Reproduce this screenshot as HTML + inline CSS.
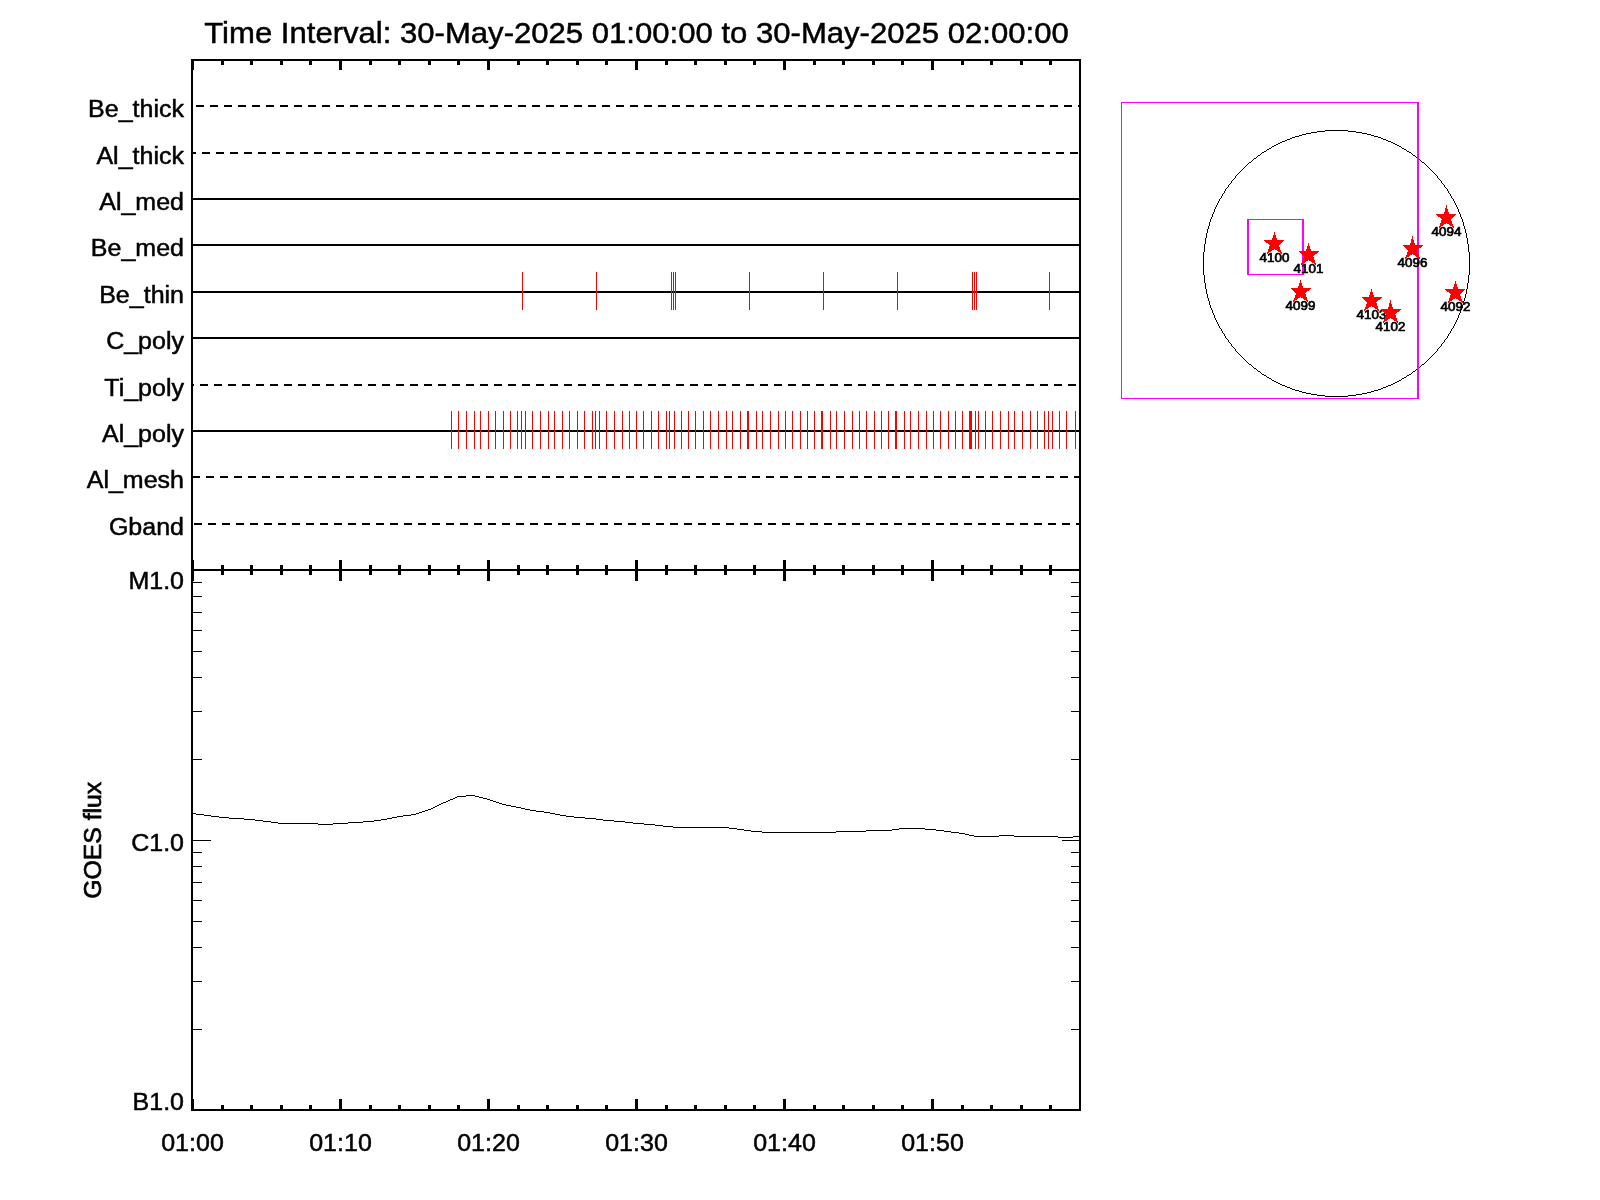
<!DOCTYPE html>
<html><head><meta charset="utf-8"><title>XRT timeline</title>
<style>
html,body{margin:0;padding:0;background:#fff;}
body{width:1600px;height:1200px;overflow:hidden;font-family:"Liberation Sans",sans-serif;}
svg{display:block;}
text{fill:#000;stroke:#000;stroke-width:0.5px;}
svg{will-change:transform;}
</style></head><body>
<svg width="1600" height="1200" viewBox="0 0 1600 1200" shape-rendering="crispEdges">
<rect x="191" y="59" width="2" height="1052" fill="#000"/>
<rect x="1079" y="59" width="2" height="1052" fill="#000"/>
<rect x="191" y="59" width="890" height="2" fill="#000"/>
<rect x="191" y="569" width="890" height="2" fill="#000"/>
<rect x="191" y="1109" width="890" height="2" fill="#000"/>
<rect x="191" y="59" width="3" height="11" fill="#000"/>
<rect x="191" y="560" width="3" height="21" fill="#000"/>
<rect x="191" y="1099" width="3" height="12" fill="#000"/>
<rect x="221" y="59" width="3" height="6" fill="#000"/>
<rect x="221" y="565" width="3" height="10" fill="#000"/>
<rect x="221" y="1105" width="3" height="6" fill="#000"/>
<rect x="250" y="59" width="3" height="6" fill="#000"/>
<rect x="250" y="565" width="3" height="10" fill="#000"/>
<rect x="250" y="1105" width="3" height="6" fill="#000"/>
<rect x="280" y="59" width="3" height="6" fill="#000"/>
<rect x="280" y="565" width="3" height="10" fill="#000"/>
<rect x="280" y="1105" width="3" height="6" fill="#000"/>
<rect x="309" y="59" width="3" height="6" fill="#000"/>
<rect x="309" y="565" width="3" height="10" fill="#000"/>
<rect x="309" y="1105" width="3" height="6" fill="#000"/>
<rect x="339" y="59" width="3" height="11" fill="#000"/>
<rect x="339" y="560" width="3" height="21" fill="#000"/>
<rect x="339" y="1099" width="3" height="12" fill="#000"/>
<rect x="369" y="59" width="3" height="6" fill="#000"/>
<rect x="369" y="565" width="3" height="10" fill="#000"/>
<rect x="369" y="1105" width="3" height="6" fill="#000"/>
<rect x="398" y="59" width="3" height="6" fill="#000"/>
<rect x="398" y="565" width="3" height="10" fill="#000"/>
<rect x="398" y="1105" width="3" height="6" fill="#000"/>
<rect x="428" y="59" width="3" height="6" fill="#000"/>
<rect x="428" y="565" width="3" height="10" fill="#000"/>
<rect x="428" y="1105" width="3" height="6" fill="#000"/>
<rect x="457" y="59" width="3" height="6" fill="#000"/>
<rect x="457" y="565" width="3" height="10" fill="#000"/>
<rect x="457" y="1105" width="3" height="6" fill="#000"/>
<rect x="487" y="59" width="3" height="11" fill="#000"/>
<rect x="487" y="560" width="3" height="21" fill="#000"/>
<rect x="487" y="1099" width="3" height="12" fill="#000"/>
<rect x="517" y="59" width="3" height="6" fill="#000"/>
<rect x="517" y="565" width="3" height="10" fill="#000"/>
<rect x="517" y="1105" width="3" height="6" fill="#000"/>
<rect x="546" y="59" width="3" height="6" fill="#000"/>
<rect x="546" y="565" width="3" height="10" fill="#000"/>
<rect x="546" y="1105" width="3" height="6" fill="#000"/>
<rect x="576" y="59" width="3" height="6" fill="#000"/>
<rect x="576" y="565" width="3" height="10" fill="#000"/>
<rect x="576" y="1105" width="3" height="6" fill="#000"/>
<rect x="605" y="59" width="3" height="6" fill="#000"/>
<rect x="605" y="565" width="3" height="10" fill="#000"/>
<rect x="605" y="1105" width="3" height="6" fill="#000"/>
<rect x="635" y="59" width="3" height="11" fill="#000"/>
<rect x="635" y="560" width="3" height="21" fill="#000"/>
<rect x="635" y="1099" width="3" height="12" fill="#000"/>
<rect x="665" y="59" width="3" height="6" fill="#000"/>
<rect x="665" y="565" width="3" height="10" fill="#000"/>
<rect x="665" y="1105" width="3" height="6" fill="#000"/>
<rect x="694" y="59" width="3" height="6" fill="#000"/>
<rect x="694" y="565" width="3" height="10" fill="#000"/>
<rect x="694" y="1105" width="3" height="6" fill="#000"/>
<rect x="724" y="59" width="3" height="6" fill="#000"/>
<rect x="724" y="565" width="3" height="10" fill="#000"/>
<rect x="724" y="1105" width="3" height="6" fill="#000"/>
<rect x="753" y="59" width="3" height="6" fill="#000"/>
<rect x="753" y="565" width="3" height="10" fill="#000"/>
<rect x="753" y="1105" width="3" height="6" fill="#000"/>
<rect x="783" y="59" width="3" height="11" fill="#000"/>
<rect x="783" y="560" width="3" height="21" fill="#000"/>
<rect x="783" y="1099" width="3" height="12" fill="#000"/>
<rect x="813" y="59" width="3" height="6" fill="#000"/>
<rect x="813" y="565" width="3" height="10" fill="#000"/>
<rect x="813" y="1105" width="3" height="6" fill="#000"/>
<rect x="842" y="59" width="3" height="6" fill="#000"/>
<rect x="842" y="565" width="3" height="10" fill="#000"/>
<rect x="842" y="1105" width="3" height="6" fill="#000"/>
<rect x="872" y="59" width="3" height="6" fill="#000"/>
<rect x="872" y="565" width="3" height="10" fill="#000"/>
<rect x="872" y="1105" width="3" height="6" fill="#000"/>
<rect x="901" y="59" width="3" height="6" fill="#000"/>
<rect x="901" y="565" width="3" height="10" fill="#000"/>
<rect x="901" y="1105" width="3" height="6" fill="#000"/>
<rect x="931" y="59" width="3" height="11" fill="#000"/>
<rect x="931" y="560" width="3" height="21" fill="#000"/>
<rect x="931" y="1099" width="3" height="12" fill="#000"/>
<rect x="961" y="59" width="3" height="6" fill="#000"/>
<rect x="961" y="565" width="3" height="10" fill="#000"/>
<rect x="961" y="1105" width="3" height="6" fill="#000"/>
<rect x="990" y="59" width="3" height="6" fill="#000"/>
<rect x="990" y="565" width="3" height="10" fill="#000"/>
<rect x="990" y="1105" width="3" height="6" fill="#000"/>
<rect x="1020" y="59" width="3" height="6" fill="#000"/>
<rect x="1020" y="565" width="3" height="10" fill="#000"/>
<rect x="1020" y="1105" width="3" height="6" fill="#000"/>
<rect x="1049" y="59" width="3" height="6" fill="#000"/>
<rect x="1049" y="565" width="3" height="10" fill="#000"/>
<rect x="1049" y="1105" width="3" height="6" fill="#000"/>
<rect x="196" y="105" width="8" height="2" fill="#000"/>
<rect x="210" y="105" width="8" height="2" fill="#000"/>
<rect x="224" y="105" width="8" height="2" fill="#000"/>
<rect x="238" y="105" width="8" height="2" fill="#000"/>
<rect x="252" y="105" width="8" height="2" fill="#000"/>
<rect x="266" y="105" width="8" height="2" fill="#000"/>
<rect x="280" y="105" width="8" height="2" fill="#000"/>
<rect x="294" y="105" width="8" height="2" fill="#000"/>
<rect x="308" y="105" width="8" height="2" fill="#000"/>
<rect x="322" y="105" width="8" height="2" fill="#000"/>
<rect x="336" y="105" width="8" height="2" fill="#000"/>
<rect x="350" y="105" width="8" height="2" fill="#000"/>
<rect x="364" y="105" width="8" height="2" fill="#000"/>
<rect x="378" y="105" width="8" height="2" fill="#000"/>
<rect x="392" y="105" width="8" height="2" fill="#000"/>
<rect x="406" y="105" width="8" height="2" fill="#000"/>
<rect x="420" y="105" width="8" height="2" fill="#000"/>
<rect x="434" y="105" width="8" height="2" fill="#000"/>
<rect x="448" y="105" width="8" height="2" fill="#000"/>
<rect x="462" y="105" width="8" height="2" fill="#000"/>
<rect x="476" y="105" width="8" height="2" fill="#000"/>
<rect x="490" y="105" width="8" height="2" fill="#000"/>
<rect x="504" y="105" width="8" height="2" fill="#000"/>
<rect x="518" y="105" width="8" height="2" fill="#000"/>
<rect x="532" y="105" width="8" height="2" fill="#000"/>
<rect x="546" y="105" width="8" height="2" fill="#000"/>
<rect x="560" y="105" width="8" height="2" fill="#000"/>
<rect x="574" y="105" width="8" height="2" fill="#000"/>
<rect x="588" y="105" width="8" height="2" fill="#000"/>
<rect x="602" y="105" width="8" height="2" fill="#000"/>
<rect x="616" y="105" width="8" height="2" fill="#000"/>
<rect x="630" y="105" width="8" height="2" fill="#000"/>
<rect x="644" y="105" width="8" height="2" fill="#000"/>
<rect x="658" y="105" width="8" height="2" fill="#000"/>
<rect x="672" y="105" width="8" height="2" fill="#000"/>
<rect x="686" y="105" width="8" height="2" fill="#000"/>
<rect x="700" y="105" width="8" height="2" fill="#000"/>
<rect x="714" y="105" width="8" height="2" fill="#000"/>
<rect x="728" y="105" width="8" height="2" fill="#000"/>
<rect x="742" y="105" width="8" height="2" fill="#000"/>
<rect x="756" y="105" width="8" height="2" fill="#000"/>
<rect x="770" y="105" width="8" height="2" fill="#000"/>
<rect x="784" y="105" width="8" height="2" fill="#000"/>
<rect x="798" y="105" width="8" height="2" fill="#000"/>
<rect x="812" y="105" width="8" height="2" fill="#000"/>
<rect x="826" y="105" width="8" height="2" fill="#000"/>
<rect x="840" y="105" width="8" height="2" fill="#000"/>
<rect x="854" y="105" width="8" height="2" fill="#000"/>
<rect x="868" y="105" width="8" height="2" fill="#000"/>
<rect x="882" y="105" width="8" height="2" fill="#000"/>
<rect x="896" y="105" width="8" height="2" fill="#000"/>
<rect x="910" y="105" width="8" height="2" fill="#000"/>
<rect x="924" y="105" width="8" height="2" fill="#000"/>
<rect x="938" y="105" width="8" height="2" fill="#000"/>
<rect x="952" y="105" width="8" height="2" fill="#000"/>
<rect x="966" y="105" width="8" height="2" fill="#000"/>
<rect x="980" y="105" width="8" height="2" fill="#000"/>
<rect x="994" y="105" width="8" height="2" fill="#000"/>
<rect x="1008" y="105" width="8" height="2" fill="#000"/>
<rect x="1022" y="105" width="8" height="2" fill="#000"/>
<rect x="1036" y="105" width="8" height="2" fill="#000"/>
<rect x="1050" y="105" width="8" height="2" fill="#000"/>
<rect x="1064" y="105" width="8" height="2" fill="#000"/>
<rect x="1078" y="105" width="1" height="2" fill="#000"/>
<text transform="translate(184,117) scale(1.047,1)" text-anchor="end" font-family="Liberation Sans, sans-serif" font-size="23.9">Be_thick</text>
<rect x="193" y="152" width="3" height="2" fill="#000"/>
<rect x="202" y="152" width="8" height="2" fill="#000"/>
<rect x="216" y="152" width="8" height="2" fill="#000"/>
<rect x="230" y="152" width="8" height="2" fill="#000"/>
<rect x="244" y="152" width="8" height="2" fill="#000"/>
<rect x="258" y="152" width="8" height="2" fill="#000"/>
<rect x="272" y="152" width="8" height="2" fill="#000"/>
<rect x="286" y="152" width="8" height="2" fill="#000"/>
<rect x="300" y="152" width="8" height="2" fill="#000"/>
<rect x="314" y="152" width="8" height="2" fill="#000"/>
<rect x="328" y="152" width="8" height="2" fill="#000"/>
<rect x="342" y="152" width="8" height="2" fill="#000"/>
<rect x="356" y="152" width="8" height="2" fill="#000"/>
<rect x="370" y="152" width="8" height="2" fill="#000"/>
<rect x="384" y="152" width="8" height="2" fill="#000"/>
<rect x="398" y="152" width="8" height="2" fill="#000"/>
<rect x="412" y="152" width="8" height="2" fill="#000"/>
<rect x="426" y="152" width="8" height="2" fill="#000"/>
<rect x="440" y="152" width="8" height="2" fill="#000"/>
<rect x="454" y="152" width="8" height="2" fill="#000"/>
<rect x="468" y="152" width="8" height="2" fill="#000"/>
<rect x="482" y="152" width="8" height="2" fill="#000"/>
<rect x="496" y="152" width="8" height="2" fill="#000"/>
<rect x="510" y="152" width="8" height="2" fill="#000"/>
<rect x="524" y="152" width="8" height="2" fill="#000"/>
<rect x="538" y="152" width="8" height="2" fill="#000"/>
<rect x="552" y="152" width="8" height="2" fill="#000"/>
<rect x="566" y="152" width="8" height="2" fill="#000"/>
<rect x="580" y="152" width="8" height="2" fill="#000"/>
<rect x="594" y="152" width="8" height="2" fill="#000"/>
<rect x="608" y="152" width="8" height="2" fill="#000"/>
<rect x="622" y="152" width="8" height="2" fill="#000"/>
<rect x="636" y="152" width="8" height="2" fill="#000"/>
<rect x="650" y="152" width="8" height="2" fill="#000"/>
<rect x="664" y="152" width="8" height="2" fill="#000"/>
<rect x="678" y="152" width="8" height="2" fill="#000"/>
<rect x="692" y="152" width="8" height="2" fill="#000"/>
<rect x="706" y="152" width="8" height="2" fill="#000"/>
<rect x="720" y="152" width="8" height="2" fill="#000"/>
<rect x="734" y="152" width="8" height="2" fill="#000"/>
<rect x="748" y="152" width="8" height="2" fill="#000"/>
<rect x="762" y="152" width="8" height="2" fill="#000"/>
<rect x="776" y="152" width="8" height="2" fill="#000"/>
<rect x="790" y="152" width="8" height="2" fill="#000"/>
<rect x="804" y="152" width="8" height="2" fill="#000"/>
<rect x="818" y="152" width="8" height="2" fill="#000"/>
<rect x="832" y="152" width="8" height="2" fill="#000"/>
<rect x="846" y="152" width="8" height="2" fill="#000"/>
<rect x="860" y="152" width="8" height="2" fill="#000"/>
<rect x="874" y="152" width="8" height="2" fill="#000"/>
<rect x="888" y="152" width="8" height="2" fill="#000"/>
<rect x="902" y="152" width="8" height="2" fill="#000"/>
<rect x="916" y="152" width="8" height="2" fill="#000"/>
<rect x="930" y="152" width="8" height="2" fill="#000"/>
<rect x="944" y="152" width="8" height="2" fill="#000"/>
<rect x="958" y="152" width="8" height="2" fill="#000"/>
<rect x="972" y="152" width="8" height="2" fill="#000"/>
<rect x="986" y="152" width="8" height="2" fill="#000"/>
<rect x="1000" y="152" width="8" height="2" fill="#000"/>
<rect x="1014" y="152" width="8" height="2" fill="#000"/>
<rect x="1028" y="152" width="8" height="2" fill="#000"/>
<rect x="1042" y="152" width="8" height="2" fill="#000"/>
<rect x="1056" y="152" width="8" height="2" fill="#000"/>
<rect x="1070" y="152" width="8" height="2" fill="#000"/>
<text transform="translate(184,164) scale(1.047,1)" text-anchor="end" font-family="Liberation Sans, sans-serif" font-size="23.9">Al_thick</text>
<rect x="193" y="198" width="886" height="2" fill="#000"/>
<text transform="translate(184,210) scale(1.047,1)" text-anchor="end" font-family="Liberation Sans, sans-serif" font-size="23.9">Al_med</text>
<rect x="193" y="244" width="886" height="2" fill="#000"/>
<text transform="translate(184,256) scale(1.047,1)" text-anchor="end" font-family="Liberation Sans, sans-serif" font-size="23.9">Be_med</text>
<rect x="193" y="291" width="886" height="2" fill="#000"/>
<text transform="translate(184,303) scale(1.047,1)" text-anchor="end" font-family="Liberation Sans, sans-serif" font-size="23.9">Be_thin</text>
<rect x="193" y="337" width="886" height="2" fill="#000"/>
<text transform="translate(184,349) scale(1.047,1)" text-anchor="end" font-family="Liberation Sans, sans-serif" font-size="23.9">C_poly</text>
<rect x="193" y="384" width="1" height="2" fill="#000"/>
<rect x="200" y="384" width="8" height="2" fill="#000"/>
<rect x="214" y="384" width="8" height="2" fill="#000"/>
<rect x="228" y="384" width="8" height="2" fill="#000"/>
<rect x="242" y="384" width="8" height="2" fill="#000"/>
<rect x="256" y="384" width="8" height="2" fill="#000"/>
<rect x="270" y="384" width="8" height="2" fill="#000"/>
<rect x="284" y="384" width="8" height="2" fill="#000"/>
<rect x="298" y="384" width="8" height="2" fill="#000"/>
<rect x="312" y="384" width="8" height="2" fill="#000"/>
<rect x="326" y="384" width="8" height="2" fill="#000"/>
<rect x="340" y="384" width="8" height="2" fill="#000"/>
<rect x="354" y="384" width="8" height="2" fill="#000"/>
<rect x="368" y="384" width="8" height="2" fill="#000"/>
<rect x="382" y="384" width="8" height="2" fill="#000"/>
<rect x="396" y="384" width="8" height="2" fill="#000"/>
<rect x="410" y="384" width="8" height="2" fill="#000"/>
<rect x="424" y="384" width="8" height="2" fill="#000"/>
<rect x="438" y="384" width="8" height="2" fill="#000"/>
<rect x="452" y="384" width="8" height="2" fill="#000"/>
<rect x="466" y="384" width="8" height="2" fill="#000"/>
<rect x="480" y="384" width="8" height="2" fill="#000"/>
<rect x="494" y="384" width="8" height="2" fill="#000"/>
<rect x="508" y="384" width="8" height="2" fill="#000"/>
<rect x="522" y="384" width="8" height="2" fill="#000"/>
<rect x="536" y="384" width="8" height="2" fill="#000"/>
<rect x="550" y="384" width="8" height="2" fill="#000"/>
<rect x="564" y="384" width="8" height="2" fill="#000"/>
<rect x="578" y="384" width="8" height="2" fill="#000"/>
<rect x="592" y="384" width="8" height="2" fill="#000"/>
<rect x="606" y="384" width="8" height="2" fill="#000"/>
<rect x="620" y="384" width="8" height="2" fill="#000"/>
<rect x="634" y="384" width="8" height="2" fill="#000"/>
<rect x="648" y="384" width="8" height="2" fill="#000"/>
<rect x="662" y="384" width="8" height="2" fill="#000"/>
<rect x="676" y="384" width="8" height="2" fill="#000"/>
<rect x="690" y="384" width="8" height="2" fill="#000"/>
<rect x="704" y="384" width="8" height="2" fill="#000"/>
<rect x="718" y="384" width="8" height="2" fill="#000"/>
<rect x="732" y="384" width="8" height="2" fill="#000"/>
<rect x="746" y="384" width="8" height="2" fill="#000"/>
<rect x="760" y="384" width="8" height="2" fill="#000"/>
<rect x="774" y="384" width="8" height="2" fill="#000"/>
<rect x="788" y="384" width="8" height="2" fill="#000"/>
<rect x="802" y="384" width="8" height="2" fill="#000"/>
<rect x="816" y="384" width="8" height="2" fill="#000"/>
<rect x="830" y="384" width="8" height="2" fill="#000"/>
<rect x="844" y="384" width="8" height="2" fill="#000"/>
<rect x="858" y="384" width="8" height="2" fill="#000"/>
<rect x="872" y="384" width="8" height="2" fill="#000"/>
<rect x="886" y="384" width="8" height="2" fill="#000"/>
<rect x="900" y="384" width="8" height="2" fill="#000"/>
<rect x="914" y="384" width="8" height="2" fill="#000"/>
<rect x="928" y="384" width="8" height="2" fill="#000"/>
<rect x="942" y="384" width="8" height="2" fill="#000"/>
<rect x="956" y="384" width="8" height="2" fill="#000"/>
<rect x="970" y="384" width="8" height="2" fill="#000"/>
<rect x="984" y="384" width="8" height="2" fill="#000"/>
<rect x="998" y="384" width="8" height="2" fill="#000"/>
<rect x="1012" y="384" width="8" height="2" fill="#000"/>
<rect x="1026" y="384" width="8" height="2" fill="#000"/>
<rect x="1040" y="384" width="8" height="2" fill="#000"/>
<rect x="1054" y="384" width="8" height="2" fill="#000"/>
<rect x="1068" y="384" width="8" height="2" fill="#000"/>
<text transform="translate(184,396) scale(1.047,1)" text-anchor="end" font-family="Liberation Sans, sans-serif" font-size="23.9">Ti_poly</text>
<rect x="193" y="430" width="886" height="2" fill="#000"/>
<text transform="translate(184,442) scale(1.047,1)" text-anchor="end" font-family="Liberation Sans, sans-serif" font-size="23.9">Al_poly</text>
<rect x="193" y="476" width="7" height="2" fill="#000"/>
<rect x="206" y="476" width="8" height="2" fill="#000"/>
<rect x="220" y="476" width="8" height="2" fill="#000"/>
<rect x="234" y="476" width="8" height="2" fill="#000"/>
<rect x="248" y="476" width="8" height="2" fill="#000"/>
<rect x="262" y="476" width="8" height="2" fill="#000"/>
<rect x="276" y="476" width="8" height="2" fill="#000"/>
<rect x="290" y="476" width="8" height="2" fill="#000"/>
<rect x="304" y="476" width="8" height="2" fill="#000"/>
<rect x="318" y="476" width="8" height="2" fill="#000"/>
<rect x="332" y="476" width="8" height="2" fill="#000"/>
<rect x="346" y="476" width="8" height="2" fill="#000"/>
<rect x="360" y="476" width="8" height="2" fill="#000"/>
<rect x="374" y="476" width="8" height="2" fill="#000"/>
<rect x="388" y="476" width="8" height="2" fill="#000"/>
<rect x="402" y="476" width="8" height="2" fill="#000"/>
<rect x="416" y="476" width="8" height="2" fill="#000"/>
<rect x="430" y="476" width="8" height="2" fill="#000"/>
<rect x="444" y="476" width="8" height="2" fill="#000"/>
<rect x="458" y="476" width="8" height="2" fill="#000"/>
<rect x="472" y="476" width="8" height="2" fill="#000"/>
<rect x="486" y="476" width="8" height="2" fill="#000"/>
<rect x="500" y="476" width="8" height="2" fill="#000"/>
<rect x="514" y="476" width="8" height="2" fill="#000"/>
<rect x="528" y="476" width="8" height="2" fill="#000"/>
<rect x="542" y="476" width="8" height="2" fill="#000"/>
<rect x="556" y="476" width="8" height="2" fill="#000"/>
<rect x="570" y="476" width="8" height="2" fill="#000"/>
<rect x="584" y="476" width="8" height="2" fill="#000"/>
<rect x="598" y="476" width="8" height="2" fill="#000"/>
<rect x="612" y="476" width="8" height="2" fill="#000"/>
<rect x="626" y="476" width="8" height="2" fill="#000"/>
<rect x="640" y="476" width="8" height="2" fill="#000"/>
<rect x="654" y="476" width="8" height="2" fill="#000"/>
<rect x="668" y="476" width="8" height="2" fill="#000"/>
<rect x="682" y="476" width="8" height="2" fill="#000"/>
<rect x="696" y="476" width="8" height="2" fill="#000"/>
<rect x="710" y="476" width="8" height="2" fill="#000"/>
<rect x="724" y="476" width="8" height="2" fill="#000"/>
<rect x="738" y="476" width="8" height="2" fill="#000"/>
<rect x="752" y="476" width="8" height="2" fill="#000"/>
<rect x="766" y="476" width="8" height="2" fill="#000"/>
<rect x="780" y="476" width="8" height="2" fill="#000"/>
<rect x="794" y="476" width="8" height="2" fill="#000"/>
<rect x="808" y="476" width="8" height="2" fill="#000"/>
<rect x="822" y="476" width="8" height="2" fill="#000"/>
<rect x="836" y="476" width="8" height="2" fill="#000"/>
<rect x="850" y="476" width="8" height="2" fill="#000"/>
<rect x="864" y="476" width="8" height="2" fill="#000"/>
<rect x="878" y="476" width="8" height="2" fill="#000"/>
<rect x="892" y="476" width="8" height="2" fill="#000"/>
<rect x="906" y="476" width="8" height="2" fill="#000"/>
<rect x="920" y="476" width="8" height="2" fill="#000"/>
<rect x="934" y="476" width="8" height="2" fill="#000"/>
<rect x="948" y="476" width="8" height="2" fill="#000"/>
<rect x="962" y="476" width="8" height="2" fill="#000"/>
<rect x="976" y="476" width="8" height="2" fill="#000"/>
<rect x="990" y="476" width="8" height="2" fill="#000"/>
<rect x="1004" y="476" width="8" height="2" fill="#000"/>
<rect x="1018" y="476" width="8" height="2" fill="#000"/>
<rect x="1032" y="476" width="8" height="2" fill="#000"/>
<rect x="1046" y="476" width="8" height="2" fill="#000"/>
<rect x="1060" y="476" width="8" height="2" fill="#000"/>
<rect x="1074" y="476" width="5" height="2" fill="#000"/>
<text transform="translate(184,488) scale(1.047,1)" text-anchor="end" font-family="Liberation Sans, sans-serif" font-size="23.9">Al_mesh</text>
<rect x="194" y="523" width="8" height="2" fill="#000"/>
<rect x="208" y="523" width="8" height="2" fill="#000"/>
<rect x="222" y="523" width="8" height="2" fill="#000"/>
<rect x="236" y="523" width="8" height="2" fill="#000"/>
<rect x="250" y="523" width="8" height="2" fill="#000"/>
<rect x="264" y="523" width="8" height="2" fill="#000"/>
<rect x="278" y="523" width="8" height="2" fill="#000"/>
<rect x="292" y="523" width="8" height="2" fill="#000"/>
<rect x="306" y="523" width="8" height="2" fill="#000"/>
<rect x="320" y="523" width="8" height="2" fill="#000"/>
<rect x="334" y="523" width="8" height="2" fill="#000"/>
<rect x="348" y="523" width="8" height="2" fill="#000"/>
<rect x="362" y="523" width="8" height="2" fill="#000"/>
<rect x="376" y="523" width="8" height="2" fill="#000"/>
<rect x="390" y="523" width="8" height="2" fill="#000"/>
<rect x="404" y="523" width="8" height="2" fill="#000"/>
<rect x="418" y="523" width="8" height="2" fill="#000"/>
<rect x="432" y="523" width="8" height="2" fill="#000"/>
<rect x="446" y="523" width="8" height="2" fill="#000"/>
<rect x="460" y="523" width="8" height="2" fill="#000"/>
<rect x="474" y="523" width="8" height="2" fill="#000"/>
<rect x="488" y="523" width="8" height="2" fill="#000"/>
<rect x="502" y="523" width="8" height="2" fill="#000"/>
<rect x="516" y="523" width="8" height="2" fill="#000"/>
<rect x="530" y="523" width="8" height="2" fill="#000"/>
<rect x="544" y="523" width="8" height="2" fill="#000"/>
<rect x="558" y="523" width="8" height="2" fill="#000"/>
<rect x="572" y="523" width="8" height="2" fill="#000"/>
<rect x="586" y="523" width="8" height="2" fill="#000"/>
<rect x="600" y="523" width="8" height="2" fill="#000"/>
<rect x="614" y="523" width="8" height="2" fill="#000"/>
<rect x="628" y="523" width="8" height="2" fill="#000"/>
<rect x="642" y="523" width="8" height="2" fill="#000"/>
<rect x="656" y="523" width="8" height="2" fill="#000"/>
<rect x="670" y="523" width="8" height="2" fill="#000"/>
<rect x="684" y="523" width="8" height="2" fill="#000"/>
<rect x="698" y="523" width="8" height="2" fill="#000"/>
<rect x="712" y="523" width="8" height="2" fill="#000"/>
<rect x="726" y="523" width="8" height="2" fill="#000"/>
<rect x="740" y="523" width="8" height="2" fill="#000"/>
<rect x="754" y="523" width="8" height="2" fill="#000"/>
<rect x="768" y="523" width="8" height="2" fill="#000"/>
<rect x="782" y="523" width="8" height="2" fill="#000"/>
<rect x="796" y="523" width="8" height="2" fill="#000"/>
<rect x="810" y="523" width="8" height="2" fill="#000"/>
<rect x="824" y="523" width="8" height="2" fill="#000"/>
<rect x="838" y="523" width="8" height="2" fill="#000"/>
<rect x="852" y="523" width="8" height="2" fill="#000"/>
<rect x="866" y="523" width="8" height="2" fill="#000"/>
<rect x="880" y="523" width="8" height="2" fill="#000"/>
<rect x="894" y="523" width="8" height="2" fill="#000"/>
<rect x="908" y="523" width="8" height="2" fill="#000"/>
<rect x="922" y="523" width="8" height="2" fill="#000"/>
<rect x="936" y="523" width="8" height="2" fill="#000"/>
<rect x="950" y="523" width="8" height="2" fill="#000"/>
<rect x="964" y="523" width="8" height="2" fill="#000"/>
<rect x="978" y="523" width="8" height="2" fill="#000"/>
<rect x="992" y="523" width="8" height="2" fill="#000"/>
<rect x="1006" y="523" width="8" height="2" fill="#000"/>
<rect x="1020" y="523" width="8" height="2" fill="#000"/>
<rect x="1034" y="523" width="8" height="2" fill="#000"/>
<rect x="1048" y="523" width="8" height="2" fill="#000"/>
<rect x="1062" y="523" width="8" height="2" fill="#000"/>
<rect x="1076" y="523" width="3" height="2" fill="#000"/>
<text transform="translate(184,535) scale(1.047,1)" text-anchor="end" font-family="Liberation Sans, sans-serif" font-size="23.9">Gband</text>
<rect x="522" y="272" width="1" height="38" fill="#ff0000"/>
<rect x="596" y="272" width="1" height="38" fill="#ff0000"/>
<rect x="671" y="272" width="1" height="38" fill="#ff0000"/>
<rect x="673" y="272" width="1" height="38" fill="#ff0000"/>
<rect x="675" y="272" width="1" height="38" fill="#ff0000"/>
<rect x="749" y="272" width="1" height="38" fill="#ff0000"/>
<rect x="823" y="272" width="1" height="38" fill="#ff0000"/>
<rect x="897" y="272" width="1" height="38" fill="#ff0000"/>
<rect x="972" y="272" width="1" height="38" fill="#ff0000"/>
<rect x="974" y="272" width="1" height="38" fill="#ff0000"/>
<rect x="976" y="272" width="1" height="38" fill="#ff0000"/>
<rect x="1049" y="272" width="1" height="38" fill="#ff0000"/>
<rect x="451" y="411" width="1" height="38" fill="#ff0000"/>
<rect x="458" y="411" width="1" height="38" fill="#ff0000"/>
<rect x="466" y="411" width="1" height="38" fill="#ff0000"/>
<rect x="474" y="411" width="1" height="38" fill="#ff0000"/>
<rect x="480" y="411" width="1" height="38" fill="#ff0000"/>
<rect x="488" y="411" width="1" height="38" fill="#ff0000"/>
<rect x="495" y="411" width="1" height="38" fill="#ff0000"/>
<rect x="503" y="411" width="1" height="38" fill="#ff0000"/>
<rect x="510" y="411" width="1" height="38" fill="#ff0000"/>
<rect x="517" y="411" width="1" height="38" fill="#ff0000"/>
<rect x="521" y="411" width="1" height="38" fill="#ff0000"/>
<rect x="525" y="411" width="1" height="38" fill="#ff0000"/>
<rect x="532" y="411" width="1" height="38" fill="#ff0000"/>
<rect x="540" y="411" width="1" height="38" fill="#ff0000"/>
<rect x="548" y="411" width="1" height="38" fill="#ff0000"/>
<rect x="554" y="411" width="1" height="38" fill="#ff0000"/>
<rect x="562" y="411" width="1" height="38" fill="#ff0000"/>
<rect x="569" y="411" width="1" height="38" fill="#ff0000"/>
<rect x="577" y="411" width="1" height="38" fill="#ff0000"/>
<rect x="584" y="411" width="1" height="38" fill="#ff0000"/>
<rect x="592" y="411" width="1" height="38" fill="#ff0000"/>
<rect x="595" y="411" width="1" height="38" fill="#ff0000"/>
<rect x="599" y="411" width="1" height="38" fill="#ff0000"/>
<rect x="606" y="411" width="1" height="38" fill="#ff0000"/>
<rect x="614" y="411" width="1" height="38" fill="#ff0000"/>
<rect x="622" y="411" width="1" height="38" fill="#ff0000"/>
<rect x="629" y="411" width="1" height="38" fill="#ff0000"/>
<rect x="636" y="411" width="1" height="38" fill="#ff0000"/>
<rect x="643" y="411" width="1" height="38" fill="#ff0000"/>
<rect x="651" y="411" width="1" height="38" fill="#ff0000"/>
<rect x="658" y="411" width="1" height="38" fill="#ff0000"/>
<rect x="666" y="411" width="1" height="38" fill="#ff0000"/>
<rect x="669" y="411" width="1" height="38" fill="#ff0000"/>
<rect x="674" y="411" width="1" height="38" fill="#ff0000"/>
<rect x="681" y="411" width="1" height="38" fill="#ff0000"/>
<rect x="688" y="411" width="1" height="38" fill="#ff0000"/>
<rect x="695" y="411" width="1" height="38" fill="#ff0000"/>
<rect x="703" y="411" width="1" height="38" fill="#ff0000"/>
<rect x="710" y="411" width="1" height="38" fill="#ff0000"/>
<rect x="718" y="411" width="1" height="38" fill="#ff0000"/>
<rect x="726" y="411" width="1" height="38" fill="#ff0000"/>
<rect x="732" y="411" width="1" height="38" fill="#ff0000"/>
<rect x="740" y="411" width="1" height="38" fill="#ff0000"/>
<rect x="747" y="411" width="1" height="38" fill="#ff0000"/>
<rect x="748" y="411" width="1" height="38" fill="#ff0000"/>
<rect x="756" y="411" width="1" height="38" fill="#ff0000"/>
<rect x="762" y="411" width="1" height="38" fill="#ff0000"/>
<rect x="770" y="411" width="1" height="38" fill="#ff0000"/>
<rect x="778" y="411" width="1" height="38" fill="#ff0000"/>
<rect x="785" y="411" width="1" height="38" fill="#ff0000"/>
<rect x="792" y="411" width="1" height="38" fill="#ff0000"/>
<rect x="800" y="411" width="1" height="38" fill="#ff0000"/>
<rect x="807" y="411" width="1" height="38" fill="#ff0000"/>
<rect x="814" y="411" width="1" height="38" fill="#ff0000"/>
<rect x="821" y="411" width="1" height="38" fill="#ff0000"/>
<rect x="822" y="411" width="1" height="38" fill="#ff0000"/>
<rect x="830" y="411" width="1" height="38" fill="#ff0000"/>
<rect x="836" y="411" width="1" height="38" fill="#ff0000"/>
<rect x="844" y="411" width="1" height="38" fill="#ff0000"/>
<rect x="852" y="411" width="1" height="38" fill="#ff0000"/>
<rect x="859" y="411" width="1" height="38" fill="#ff0000"/>
<rect x="866" y="411" width="1" height="38" fill="#ff0000"/>
<rect x="874" y="411" width="1" height="38" fill="#ff0000"/>
<rect x="881" y="411" width="1" height="38" fill="#ff0000"/>
<rect x="888" y="411" width="1" height="38" fill="#ff0000"/>
<rect x="895" y="411" width="1" height="38" fill="#ff0000"/>
<rect x="896" y="411" width="1" height="38" fill="#ff0000"/>
<rect x="904" y="411" width="1" height="38" fill="#ff0000"/>
<rect x="910" y="411" width="1" height="38" fill="#ff0000"/>
<rect x="918" y="411" width="1" height="38" fill="#ff0000"/>
<rect x="926" y="411" width="1" height="38" fill="#ff0000"/>
<rect x="933" y="411" width="1" height="38" fill="#ff0000"/>
<rect x="940" y="411" width="1" height="38" fill="#ff0000"/>
<rect x="948" y="411" width="1" height="38" fill="#ff0000"/>
<rect x="955" y="411" width="1" height="38" fill="#ff0000"/>
<rect x="962" y="411" width="1" height="38" fill="#ff0000"/>
<rect x="969" y="411" width="1" height="38" fill="#ff0000"/>
<rect x="970" y="411" width="1" height="38" fill="#ff0000"/>
<rect x="971" y="411" width="1" height="38" fill="#ff0000"/>
<rect x="975" y="411" width="1" height="38" fill="#ff0000"/>
<rect x="978" y="411" width="1" height="38" fill="#ff0000"/>
<rect x="985" y="411" width="1" height="38" fill="#ff0000"/>
<rect x="992" y="411" width="1" height="38" fill="#ff0000"/>
<rect x="1000" y="411" width="1" height="38" fill="#ff0000"/>
<rect x="1008" y="411" width="1" height="38" fill="#ff0000"/>
<rect x="1014" y="411" width="1" height="38" fill="#ff0000"/>
<rect x="1022" y="411" width="1" height="38" fill="#ff0000"/>
<rect x="1030" y="411" width="1" height="38" fill="#ff0000"/>
<rect x="1037" y="411" width="1" height="38" fill="#ff0000"/>
<rect x="1044" y="411" width="1" height="38" fill="#ff0000"/>
<rect x="1048" y="411" width="1" height="38" fill="#ff0000"/>
<rect x="1052" y="411" width="1" height="38" fill="#ff0000"/>
<rect x="1059" y="411" width="1" height="38" fill="#ff0000"/>
<rect x="1066" y="411" width="1" height="38" fill="#ff0000"/>
<rect x="1075" y="411" width="1" height="38" fill="#ff0000"/>
<rect x="193" y="840" width="18" height="1" fill="#000"/>
<rect x="1062" y="840" width="17" height="1" fill="#000"/>
<rect x="193" y="759" width="9" height="1" fill="#000"/>
<rect x="1071" y="759" width="8" height="1" fill="#000"/>
<rect x="193" y="711" width="9" height="1" fill="#000"/>
<rect x="1071" y="711" width="8" height="1" fill="#000"/>
<rect x="193" y="677" width="9" height="1" fill="#000"/>
<rect x="1071" y="677" width="8" height="1" fill="#000"/>
<rect x="193" y="651" width="9" height="1" fill="#000"/>
<rect x="1071" y="651" width="8" height="1" fill="#000"/>
<rect x="193" y="630" width="9" height="1" fill="#000"/>
<rect x="1071" y="630" width="8" height="1" fill="#000"/>
<rect x="193" y="612" width="9" height="1" fill="#000"/>
<rect x="1071" y="612" width="8" height="1" fill="#000"/>
<rect x="193" y="596" width="9" height="1" fill="#000"/>
<rect x="1071" y="596" width="8" height="1" fill="#000"/>
<rect x="193" y="582" width="9" height="1" fill="#000"/>
<rect x="1071" y="582" width="8" height="1" fill="#000"/>
<rect x="193" y="1029" width="9" height="1" fill="#000"/>
<rect x="1071" y="1029" width="8" height="1" fill="#000"/>
<rect x="193" y="981" width="9" height="1" fill="#000"/>
<rect x="1071" y="981" width="8" height="1" fill="#000"/>
<rect x="193" y="947" width="9" height="1" fill="#000"/>
<rect x="1071" y="947" width="8" height="1" fill="#000"/>
<rect x="193" y="921" width="9" height="1" fill="#000"/>
<rect x="1071" y="921" width="8" height="1" fill="#000"/>
<rect x="193" y="900" width="9" height="1" fill="#000"/>
<rect x="1071" y="900" width="8" height="1" fill="#000"/>
<rect x="193" y="882" width="9" height="1" fill="#000"/>
<rect x="1071" y="882" width="8" height="1" fill="#000"/>
<rect x="193" y="866" width="9" height="1" fill="#000"/>
<rect x="1071" y="866" width="8" height="1" fill="#000"/>
<rect x="193" y="852" width="9" height="1" fill="#000"/>
<rect x="1071" y="852" width="8" height="1" fill="#000"/>
<path fill="#000" d="M193 813h3v1h-3zM196 814h8v1h-8zM204 815h7v1h-7zM211 816h8v1h-8zM219 817h10v1h-10zM229 818h15v1h-15zM244 819h11v1h-11zM255 820h8v1h-8zM263 821h8v1h-8zM271 822h7v1h-7zM278 823h40v1h-40zM318 824h15v1h-15zM333 823h15v1h-15zM348 822h15v1h-15zM363 821h11v1h-11zM374 820h7v1h-7zM381 819h6v1h-6zM387 818h5v1h-5zM392 817h5v1h-5zM397 816h6v1h-6zM403 815h8v1h-8zM411 814h5v1h-5zM416 813h3v1h-3zM419 812h3v1h-3zM422 811h3v1h-3zM425 810h3v1h-3zM428 809h3v1h-3zM431 808h2v1h-2zM433 807h2v1h-2zM435 806h2v1h-2zM437 805h2v1h-2zM439 804h2v1h-2zM441 803h2v1h-2zM443 802h3v1h-3zM446 801h2v1h-2zM448 800h2v1h-2zM450 799h3v1h-3zM453 798h2v1h-2zM455 797h2v1h-2zM457 796h9v1h-9zM466 795h9v1h-9zM475 796h4v1h-4zM479 797h4v1h-4zM483 798h4v1h-4zM487 799h3v1h-3zM490 800h3v1h-3zM493 801h3v1h-3zM496 802h3v1h-3zM499 803h3v1h-3zM502 804h4v1h-4zM506 805h5v1h-5zM511 806h5v1h-5zM516 807h5v1h-5zM521 808h4v1h-4zM525 809h5v1h-5zM530 810h6v1h-6zM536 811h8v1h-8zM544 812h6v1h-6zM550 813h5v1h-5zM555 814h5v1h-5zM560 815h6v1h-6zM566 816h8v1h-8zM574 817h11v1h-11zM585 818h11v1h-11zM596 819h7v1h-7zM603 820h11v1h-11zM614 821h11v1h-11zM625 822h8v1h-8zM633 823h11v1h-11zM644 824h11v1h-11zM655 825h8v1h-8zM663 826h10v1h-10zM673 827h56v1h-56zM729 828h8v1h-8zM737 829h7v1h-7zM744 830h7v1h-7zM751 831h11v1h-11zM762 832h74v1h-74zM836 831h30v1h-30zM866 830h26v1h-26zM892 829h7v1h-7zM899 828h26v1h-26zM925 829h11v1h-11zM936 830h8v1h-8zM944 831h7v1h-7zM951 832h8v1h-8zM959 833h6v1h-6zM965 834h4v1h-4zM969 835h5v1h-5zM974 836h25v1h-25zM999 835h15v1h-15zM1014 836h44v1h-44zM1058 837h15v1h-15zM1073 836h6v1h-6z"/>
<text transform="translate(636.5,43) scale(1.047,1)" text-anchor="middle" font-family="Liberation Sans, sans-serif" font-size="29.7">Time Interval: 30-May-2025 01:00:00 to 30-May-2025 02:00:00</text>
<text transform="translate(184,589) scale(1.047,1)" text-anchor="end" font-family="Liberation Sans, sans-serif" font-size="23.9">M1.0</text>
<text transform="translate(184,851) scale(1.047,1)" text-anchor="end" font-family="Liberation Sans, sans-serif" font-size="23.9">C1.0</text>
<text transform="translate(184,1110) scale(1.047,1)" text-anchor="end" font-family="Liberation Sans, sans-serif" font-size="23.9">B1.0</text>
<text transform="translate(192.5,1151) scale(1.047,1)" text-anchor="middle" font-family="Liberation Sans, sans-serif" font-size="23.9">01:00</text>
<text transform="translate(340.5,1151) scale(1.047,1)" text-anchor="middle" font-family="Liberation Sans, sans-serif" font-size="23.9">01:10</text>
<text transform="translate(488.5,1151) scale(1.047,1)" text-anchor="middle" font-family="Liberation Sans, sans-serif" font-size="23.9">01:20</text>
<text transform="translate(636.5,1151) scale(1.047,1)" text-anchor="middle" font-family="Liberation Sans, sans-serif" font-size="23.9">01:30</text>
<text transform="translate(784.5,1151) scale(1.047,1)" text-anchor="middle" font-family="Liberation Sans, sans-serif" font-size="23.9">01:40</text>
<text transform="translate(932.5,1151) scale(1.047,1)" text-anchor="middle" font-family="Liberation Sans, sans-serif" font-size="23.9">01:50</text>
<text transform="translate(100.9,840.3) rotate(-90)" text-anchor="middle" font-family="Liberation Sans, sans-serif" font-size="24.8" style="stroke-width:0.7px">GOES flux</text>
<path fill="#000" d="M1325 130h23v1h-23zM1317 131h8v1h-8zM1348 131h8v1h-8zM1311 132h6v1h-6zM1356 132h6v1h-6zM1306 133h5v1h-5zM1362 133h5v1h-5zM1302 134h4v1h-4zM1367 134h4v1h-4zM1299 135h3v1h-3zM1371 135h3v1h-3zM1295 136h4v1h-4zM1374 136h4v1h-4zM1292 137h3v1h-3zM1378 137h3v1h-3zM1290 138h2v1h-2zM1381 138h2v1h-2zM1287 139h3v1h-3zM1383 139h3v1h-3zM1285 140h2v1h-2zM1386 140h2v1h-2zM1282 141h3v1h-3zM1388 141h3v1h-3zM1280 142h2v1h-2zM1391 142h2v1h-2zM1278 143h2v1h-2zM1393 143h2v1h-2zM1276 144h2v1h-2zM1395 144h2v1h-2zM1274 145h2v1h-2zM1397 145h2v1h-2zM1272 146h2v1h-2zM1399 146h2v1h-2zM1271 147h1v1h-1zM1401 147h1v1h-1zM1269 148h2v1h-2zM1402 148h2v1h-2zM1267 149h2v1h-2zM1404 149h2v1h-2zM1266 150h1v1h-1zM1406 150h1v1h-1zM1264 151h2v1h-2zM1407 151h2v1h-2zM1262 152h2v1h-2zM1409 152h2v1h-2zM1261 153h1v1h-1zM1411 153h1v1h-1zM1260 154h1v1h-1zM1412 154h1v1h-1zM1258 155h2v1h-2zM1413 155h2v1h-2zM1257 156h1v1h-1zM1415 156h1v1h-1zM1256 157h1v1h-1zM1416 157h1v1h-1zM1254 158h2v1h-2zM1417 158h2v1h-2zM1253 159h1v1h-1zM1419 159h1v1h-1zM1252 160h1v1h-1zM1420 160h1v1h-1zM1251 161h1v1h-1zM1421 161h1v1h-1zM1249 162h2v1h-2zM1422 162h2v1h-2zM1248 163h1v1h-1zM1424 163h1v1h-1zM1247 164h1v1h-1zM1425 164h1v1h-1zM1246 165h1v1h-1zM1426 165h1v1h-1zM1245 166h1v1h-1zM1427 166h1v1h-1zM1244 167h1v1h-1zM1428 167h1v1h-1zM1243 168h1v1h-1zM1429 168h1v1h-1zM1242 169h1v1h-1zM1430 169h1v1h-1zM1241 170h1v1h-1zM1431 170h1v1h-1zM1240 171h1v1h-1zM1432 171h1v1h-1zM1239 172h1v1h-1zM1433 172h1v1h-1zM1238 173h1v1h-1zM1434 173h1v1h-1zM1237 174h1v1h-1zM1435 174h1v1h-1zM1236 175h1v1h-1zM1436 175h1v1h-1zM1235 176h1v1h-1zM1437 176h1v1h-1zM1235 177h1v1h-1zM1437 177h1v1h-1zM1234 178h1v1h-1zM1438 178h1v1h-1zM1233 179h1v1h-1zM1439 179h1v1h-1zM1232 180h1v1h-1zM1440 180h1v1h-1zM1231 181h1v1h-1zM1441 181h1v1h-1zM1231 182h1v1h-1zM1441 182h1v1h-1zM1230 183h1v1h-1zM1442 183h1v1h-1zM1229 184h1v1h-1zM1443 184h1v1h-1zM1228 185h1v1h-1zM1444 185h1v1h-1zM1228 186h1v1h-1zM1444 186h1v1h-1zM1227 187h1v1h-1zM1445 187h1v1h-1zM1226 188h1v1h-1zM1446 188h1v1h-1zM1225 189h1v1h-1zM1447 189h1v1h-1zM1225 190h1v1h-1zM1447 190h1v1h-1zM1224 191h1v1h-1zM1448 191h1v1h-1zM1224 192h1v1h-1zM1448 192h1v1h-1zM1223 193h1v1h-1zM1449 193h1v1h-1zM1222 194h1v1h-1zM1450 194h1v1h-1zM1222 195h1v1h-1zM1450 195h1v1h-1zM1221 196h1v1h-1zM1451 196h1v1h-1zM1221 197h1v1h-1zM1451 197h1v1h-1zM1220 198h1v1h-1zM1452 198h1v1h-1zM1219 199h1v1h-1zM1453 199h1v1h-1zM1219 200h1v1h-1zM1453 200h1v1h-1zM1218 201h1v1h-1zM1454 201h1v1h-1zM1218 202h1v1h-1zM1454 202h1v1h-1zM1217 203h1v1h-1zM1455 203h1v1h-1zM1217 204h1v1h-1zM1455 204h1v1h-1zM1216 205h1v1h-1zM1456 205h1v1h-1zM1216 206h1v1h-1zM1456 206h1v1h-1zM1215 207h1v1h-1zM1457 207h1v1h-1zM1215 208h1v1h-1zM1457 208h1v1h-1zM1214 209h1v1h-1zM1458 209h1v1h-1zM1214 210h1v1h-1zM1458 210h1v1h-1zM1214 211h1v1h-1zM1458 211h1v1h-1zM1213 212h1v1h-1zM1459 212h1v1h-1zM1213 213h1v1h-1zM1459 213h1v1h-1zM1212 214h1v1h-1zM1460 214h1v1h-1zM1212 215h1v1h-1zM1460 215h1v1h-1zM1212 216h1v1h-1zM1460 216h1v1h-1zM1211 217h1v1h-1zM1461 217h1v1h-1zM1211 218h1v1h-1zM1461 218h1v1h-1zM1210 219h1v1h-1zM1462 219h1v1h-1zM1210 220h1v1h-1zM1462 220h1v1h-1zM1210 221h1v1h-1zM1462 221h1v1h-1zM1209 222h1v1h-1zM1463 222h1v1h-1zM1209 223h1v1h-1zM1463 223h1v1h-1zM1209 224h1v1h-1zM1463 224h1v1h-1zM1209 225h1v1h-1zM1463 225h1v1h-1zM1208 226h1v1h-1zM1464 226h1v1h-1zM1208 227h1v1h-1zM1464 227h1v1h-1zM1208 228h1v1h-1zM1464 228h1v1h-1zM1207 229h1v1h-1zM1465 229h1v1h-1zM1207 230h1v1h-1zM1465 230h1v1h-1zM1207 231h1v1h-1zM1465 231h1v1h-1zM1207 232h1v1h-1zM1465 232h1v1h-1zM1206 233h1v1h-1zM1466 233h1v1h-1zM1206 234h1v1h-1zM1466 234h1v1h-1zM1206 235h1v1h-1zM1466 235h1v1h-1zM1206 236h1v1h-1zM1466 236h1v1h-1zM1206 237h1v1h-1zM1466 237h1v1h-1zM1205 238h1v1h-1zM1467 238h1v1h-1zM1205 239h1v1h-1zM1467 239h1v1h-1zM1205 240h1v1h-1zM1467 240h1v1h-1zM1205 241h1v1h-1zM1467 241h1v1h-1zM1205 242h1v1h-1zM1467 242h1v1h-1zM1205 243h1v1h-1zM1467 243h1v1h-1zM1204 244h1v1h-1zM1468 244h1v1h-1zM1204 245h1v1h-1zM1468 245h1v1h-1zM1204 246h1v1h-1zM1468 246h1v1h-1zM1204 247h1v1h-1zM1468 247h1v1h-1zM1204 248h1v1h-1zM1468 248h1v1h-1zM1204 249h1v1h-1zM1468 249h1v1h-1zM1204 250h1v1h-1zM1468 250h1v1h-1zM1204 251h1v1h-1zM1468 251h1v1h-1zM1203 252h1v1h-1zM1469 252h1v1h-1zM1203 253h1v1h-1zM1469 253h1v1h-1zM1203 254h1v1h-1zM1469 254h1v1h-1zM1203 255h1v1h-1zM1469 255h1v1h-1zM1203 256h1v1h-1zM1469 256h1v1h-1zM1203 257h1v1h-1zM1469 257h1v1h-1zM1203 258h1v1h-1zM1469 258h1v1h-1zM1203 259h1v1h-1zM1469 259h1v1h-1zM1203 260h1v1h-1zM1469 260h1v1h-1zM1203 261h1v1h-1zM1469 261h1v1h-1zM1203 262h1v1h-1zM1469 262h1v1h-1zM1203 263h1v1h-1zM1469 263h1v1h-1zM1203 264h1v1h-1zM1469 264h1v1h-1zM1203 265h1v1h-1zM1469 265h1v1h-1zM1203 266h1v1h-1zM1469 266h1v1h-1zM1203 267h1v1h-1zM1469 267h1v1h-1zM1203 268h1v1h-1zM1469 268h1v1h-1zM1203 269h1v1h-1zM1469 269h1v1h-1zM1203 270h1v1h-1zM1469 270h1v1h-1zM1203 271h1v1h-1zM1469 271h1v1h-1zM1203 272h1v1h-1zM1469 272h1v1h-1zM1203 273h1v1h-1zM1469 273h1v1h-1zM1203 274h1v1h-1zM1469 274h1v1h-1zM1204 275h1v1h-1zM1468 275h1v1h-1zM1204 276h1v1h-1zM1468 276h1v1h-1zM1204 277h1v1h-1zM1468 277h1v1h-1zM1204 278h1v1h-1zM1468 278h1v1h-1zM1204 279h1v1h-1zM1468 279h1v1h-1zM1204 280h1v1h-1zM1468 280h1v1h-1zM1204 281h1v1h-1zM1468 281h1v1h-1zM1204 282h1v1h-1zM1468 282h1v1h-1zM1205 283h1v1h-1zM1467 283h1v1h-1zM1205 284h1v1h-1zM1467 284h1v1h-1zM1205 285h1v1h-1zM1467 285h1v1h-1zM1205 286h1v1h-1zM1467 286h1v1h-1zM1205 287h1v1h-1zM1467 287h1v1h-1zM1205 288h1v1h-1zM1467 288h1v1h-1zM1206 289h1v1h-1zM1466 289h1v1h-1zM1206 290h1v1h-1zM1466 290h1v1h-1zM1206 291h1v1h-1zM1466 291h1v1h-1zM1206 292h1v1h-1zM1466 292h1v1h-1zM1206 293h1v1h-1zM1466 293h1v1h-1zM1207 294h1v1h-1zM1465 294h1v1h-1zM1207 295h1v1h-1zM1465 295h1v1h-1zM1207 296h1v1h-1zM1465 296h1v1h-1zM1207 297h1v1h-1zM1465 297h1v1h-1zM1208 298h1v1h-1zM1464 298h1v1h-1zM1208 299h1v1h-1zM1464 299h1v1h-1zM1208 300h1v1h-1zM1464 300h1v1h-1zM1209 301h1v1h-1zM1463 301h1v1h-1zM1209 302h1v1h-1zM1463 302h1v1h-1zM1209 303h1v1h-1zM1463 303h1v1h-1zM1209 304h1v1h-1zM1463 304h1v1h-1zM1210 305h1v1h-1zM1462 305h1v1h-1zM1210 306h1v1h-1zM1462 306h1v1h-1zM1210 307h1v1h-1zM1462 307h1v1h-1zM1211 308h1v1h-1zM1461 308h1v1h-1zM1211 309h1v1h-1zM1461 309h1v1h-1zM1212 310h1v1h-1zM1460 310h1v1h-1zM1212 311h1v1h-1zM1460 311h1v1h-1zM1212 312h1v1h-1zM1460 312h1v1h-1zM1213 313h1v1h-1zM1459 313h1v1h-1zM1213 314h1v1h-1zM1459 314h1v1h-1zM1214 315h1v1h-1zM1458 315h1v1h-1zM1214 316h1v1h-1zM1458 316h1v1h-1zM1214 317h1v1h-1zM1458 317h1v1h-1zM1215 318h1v1h-1zM1457 318h1v1h-1zM1215 319h1v1h-1zM1457 319h1v1h-1zM1216 320h1v1h-1zM1456 320h1v1h-1zM1216 321h1v1h-1zM1456 321h1v1h-1zM1217 322h1v1h-1zM1455 322h1v1h-1zM1217 323h1v1h-1zM1455 323h1v1h-1zM1218 324h1v1h-1zM1454 324h1v1h-1zM1218 325h1v1h-1zM1454 325h1v1h-1zM1219 326h1v1h-1zM1453 326h1v1h-1zM1219 327h1v1h-1zM1453 327h1v1h-1zM1220 328h1v1h-1zM1452 328h1v1h-1zM1221 329h1v1h-1zM1451 329h1v1h-1zM1221 330h1v1h-1zM1451 330h1v1h-1zM1222 331h1v1h-1zM1450 331h1v1h-1zM1222 332h1v1h-1zM1450 332h1v1h-1zM1223 333h1v1h-1zM1449 333h1v1h-1zM1224 334h1v1h-1zM1448 334h1v1h-1zM1224 335h1v1h-1zM1448 335h1v1h-1zM1225 336h1v1h-1zM1447 336h1v1h-1zM1225 337h1v1h-1zM1447 337h1v1h-1zM1226 338h1v1h-1zM1446 338h1v1h-1zM1227 339h1v1h-1zM1445 339h1v1h-1zM1228 340h1v1h-1zM1444 340h1v1h-1zM1228 341h1v1h-1zM1444 341h1v1h-1zM1229 342h1v1h-1zM1443 342h1v1h-1zM1230 343h1v1h-1zM1442 343h1v1h-1zM1231 344h1v1h-1zM1441 344h1v1h-1zM1231 345h1v1h-1zM1441 345h1v1h-1zM1232 346h1v1h-1zM1440 346h1v1h-1zM1233 347h1v1h-1zM1439 347h1v1h-1zM1234 348h1v1h-1zM1438 348h1v1h-1zM1235 349h1v1h-1zM1437 349h1v1h-1zM1235 350h1v1h-1zM1437 350h1v1h-1zM1236 351h1v1h-1zM1436 351h1v1h-1zM1237 352h1v1h-1zM1435 352h1v1h-1zM1238 353h1v1h-1zM1434 353h1v1h-1zM1239 354h1v1h-1zM1433 354h1v1h-1zM1240 355h1v1h-1zM1432 355h1v1h-1zM1241 356h1v1h-1zM1431 356h1v1h-1zM1242 357h1v1h-1zM1430 357h1v1h-1zM1243 358h1v1h-1zM1429 358h1v1h-1zM1244 359h1v1h-1zM1428 359h1v1h-1zM1245 360h1v1h-1zM1427 360h1v1h-1zM1246 361h1v1h-1zM1426 361h1v1h-1zM1247 362h1v1h-1zM1425 362h1v1h-1zM1248 363h1v1h-1zM1424 363h1v1h-1zM1249 364h2v1h-2zM1422 364h2v1h-2zM1251 365h1v1h-1zM1421 365h1v1h-1zM1252 366h1v1h-1zM1420 366h1v1h-1zM1253 367h1v1h-1zM1419 367h1v1h-1zM1254 368h2v1h-2zM1417 368h2v1h-2zM1256 369h1v1h-1zM1416 369h1v1h-1zM1257 370h1v1h-1zM1415 370h1v1h-1zM1258 371h2v1h-2zM1413 371h2v1h-2zM1260 372h1v1h-1zM1412 372h1v1h-1zM1261 373h1v1h-1zM1411 373h1v1h-1zM1262 374h2v1h-2zM1409 374h2v1h-2zM1264 375h2v1h-2zM1407 375h2v1h-2zM1266 376h1v1h-1zM1406 376h1v1h-1zM1267 377h2v1h-2zM1404 377h2v1h-2zM1269 378h2v1h-2zM1402 378h2v1h-2zM1271 379h1v1h-1zM1401 379h1v1h-1zM1272 380h2v1h-2zM1399 380h2v1h-2zM1274 381h2v1h-2zM1397 381h2v1h-2zM1276 382h2v1h-2zM1395 382h2v1h-2zM1278 383h2v1h-2zM1393 383h2v1h-2zM1280 384h2v1h-2zM1391 384h2v1h-2zM1282 385h3v1h-3zM1388 385h3v1h-3zM1285 386h2v1h-2zM1386 386h2v1h-2zM1287 387h3v1h-3zM1383 387h3v1h-3zM1290 388h2v1h-2zM1381 388h2v1h-2zM1292 389h3v1h-3zM1378 389h3v1h-3zM1295 390h4v1h-4zM1374 390h4v1h-4zM1299 391h3v1h-3zM1371 391h3v1h-3zM1302 392h4v1h-4zM1367 392h4v1h-4zM1306 393h5v1h-5zM1362 393h5v1h-5zM1311 394h6v1h-6zM1356 394h6v1h-6zM1317 395h8v1h-8zM1348 395h8v1h-8zM1325 396h23v1h-23z"/>
<rect x="1121" y="102" width="1" height="297" fill="#ff00ff"/>
<rect x="1121" y="102" width="298" height="1" fill="#ff00ff"/>
<rect x="1417" y="102" width="2" height="297" fill="#ff00ff"/>
<rect x="1121" y="398" width="298" height="1" fill="#ff00ff"/>
<rect x="1247" y="219" width="2" height="56" fill="#ff00ff"/>
<rect x="1247" y="219" width="57" height="1" fill="#ff00ff"/>
<rect x="1302" y="219" width="2" height="56" fill="#ff00ff"/>
<rect x="1247" y="274" width="57" height="1" fill="#ff00ff"/>
<polygon fill="#ff0000" points="1455.50,281.00 1458.20,289.40 1465.20,289.40 1459.90,294.20 1463.20,303.30 1455.50,297.90 1447.80,303.30 1450.90,294.20 1444.80,289.40 1452.80,289.40"/>
<text transform="translate(1455.5,310.8) scale(1.047,1)" text-anchor="middle" font-family="Liberation Sans, sans-serif" font-size="12.8" style="stroke-width:0.7px">4092</text>
<polygon fill="#ff0000" points="1446.50,205.00 1449.20,214.40 1456.20,214.40 1450.90,219.20 1454.20,228.30 1446.50,222.90 1438.80,228.30 1441.90,219.20 1435.80,214.40 1443.80,214.40"/>
<text transform="translate(1446.5,235.8) scale(1.047,1)" text-anchor="middle" font-family="Liberation Sans, sans-serif" font-size="12.8" style="stroke-width:0.7px">4094</text>
<polygon fill="#ff0000" points="1412.50,236.00 1415.20,245.40 1423.20,245.40 1417.10,250.20 1420.20,259.30 1412.50,253.90 1404.80,259.30 1408.10,250.20 1402.80,245.40 1409.80,245.40"/>
<text transform="translate(1412.5,266.8) scale(1.047,1)" text-anchor="middle" font-family="Liberation Sans, sans-serif" font-size="12.8" style="stroke-width:0.7px">4096</text>
<polygon fill="#ff0000" points="1300.50,280.00 1303.20,288.40 1311.20,288.40 1305.10,293.20 1308.20,302.30 1300.50,296.90 1292.80,302.30 1296.10,293.20 1290.80,288.40 1297.80,288.40"/>
<text transform="translate(1300.5,309.8) scale(1.047,1)" text-anchor="middle" font-family="Liberation Sans, sans-serif" font-size="12.8" style="stroke-width:0.7px">4099</text>
<polygon fill="#ff0000" points="1274.50,232.00 1277.20,240.40 1284.20,240.40 1278.90,245.20 1282.20,254.30 1274.50,248.90 1266.80,254.30 1269.90,245.20 1263.80,240.40 1271.80,240.40"/>
<text transform="translate(1274.5,261.8) scale(1.047,1)" text-anchor="middle" font-family="Liberation Sans, sans-serif" font-size="12.8" style="stroke-width:0.7px">4100</text>
<polygon fill="#ff0000" points="1308.50,243.00 1311.20,251.40 1319.20,251.40 1313.10,256.20 1316.20,265.30 1308.50,259.90 1300.80,265.30 1304.10,256.20 1298.80,251.40 1305.80,251.40"/>
<text transform="translate(1308.5,272.8) scale(1.047,1)" text-anchor="middle" font-family="Liberation Sans, sans-serif" font-size="12.8" style="stroke-width:0.7px">4101</text>
<polygon fill="#ff0000" points="1371.50,289.00 1374.20,297.40 1382.20,297.40 1376.10,302.20 1379.20,311.30 1371.50,305.90 1363.80,311.30 1367.10,302.20 1361.80,297.40 1368.80,297.40"/>
<text transform="translate(1371.5,318.8) scale(1.047,1)" text-anchor="middle" font-family="Liberation Sans, sans-serif" font-size="12.8" style="stroke-width:0.7px">4103</text>
<polygon fill="#ff0000" points="1390.50,300.00 1393.20,309.40 1401.20,309.40 1395.10,314.20 1398.20,323.30 1390.50,317.90 1382.80,323.30 1386.10,314.20 1380.80,309.40 1387.80,309.40"/>
<text transform="translate(1390.5,330.8) scale(1.047,1)" text-anchor="middle" font-family="Liberation Sans, sans-serif" font-size="12.8" style="stroke-width:0.7px">4102</text>
</svg>
</body></html>
